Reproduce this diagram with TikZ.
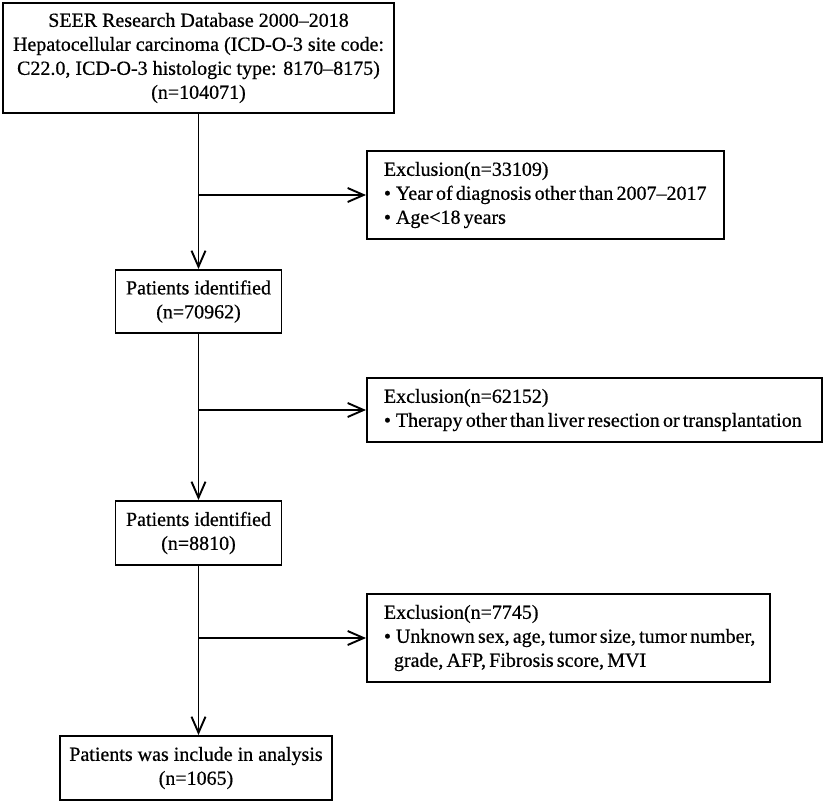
\documentclass[tikz,border=0pt]{standalone}
\usepackage{fontspec}
\setmainfont{Liberation Serif}[FakeBold=0.6]
\usepackage{tikz}
\usetikzlibrary{positioning,arrows.meta}

% left aligned lines inside an exclusion box
\newcommand{\exclines}[1]{\hspace*{17pt}{\spaceskip=3.2pt\begin{tabular}{@{}l@{}}#1\end{tabular}}}
\newcommand{\bul}{\textbullet\hspace{5pt}}

\begin{document}
\begin{tikzpicture}[x=1pt,y=-1pt,line width=1.9pt,font=\fontsize{20}{24}\selectfont]
			\tikzstyle{flow}=[-{Straight Barb[length=16pt,width=14pt,line width=1.9pt]}]
			\tikzstyle{stage}=[draw,rectangle,inner sep=0pt,align=center]
			\tikzstyle{excl}=[draw,rectangle,inner sep=0pt]
			
			% Fix the page size
			\useasboundingbox (0,0) rectangle (824,804);
			
			% Draw the main stages
			\node[stage, minimum width=391pt, minimum height=110pt] (source) at (198.5,58)
			{SEER Research Database 2000--2018\\Hepatocellular carcinoma (ICD-O-3 site code:\\C22.0, ICD-O-3 histologic type: 8170--8175)\\(n=104071)};
			\node[stage, minimum width=166pt, minimum height=63pt] (ident-1) at (198.5,301.5)
			{Patients identified\\(n=70962)};
			\node[stage, minimum width=166pt, minimum height=64pt] (ident-2) at (198.5,533)
			{Patients identified\\(n=8810)};
			\node[stage, minimum width=272pt, minimum height=64pt] (final) at (196,768)
			{Patients was include in analysis\\(n=1065)};
			
			% Draw the exclusion boxes
			\node[excl, anchor=west, text width=357pt, minimum height=88pt] (excl-1) at (366,195)
			{\exclines{Exclusion(n=33109)\\\bul Year of diagnosis other than 2007--2017\\\bul Age<18 years}};
			\node[excl, anchor=west, text width=455pt, minimum height=64pt] (excl-2) at (366,410)
			{\exclines{Exclusion(n=62152)\\\bul Therapy other than liver resection or transplantation}};
			\node[excl, anchor=west, text width=403pt, minimum height=88pt] (excl-3) at (366,638)
			{\exclines{Exclusion(n=7745)\\\bul Unknown sex, age, tumor size, tumor number,\\\hspace*{10pt}grade, AFP, Fibrosis score, MVI}};
			
			% Connect the main stages
			\draw[flow] (source.south) -- (ident-1.north);
			\draw[flow] (ident-1.south) -- (ident-2.north);
			\draw[flow] (ident-2.south) -- (ident-2.south |- final.north);
			
			% Branch off to the exclusion boxes
			\foreach \stage / \dest in {source/excl-1, ident-1/excl-2, ident-2/excl-3}
			\draw[flow] (\stage.south |- \dest.west) -- (\dest.west);
		\end{tikzpicture}
\end{document}
